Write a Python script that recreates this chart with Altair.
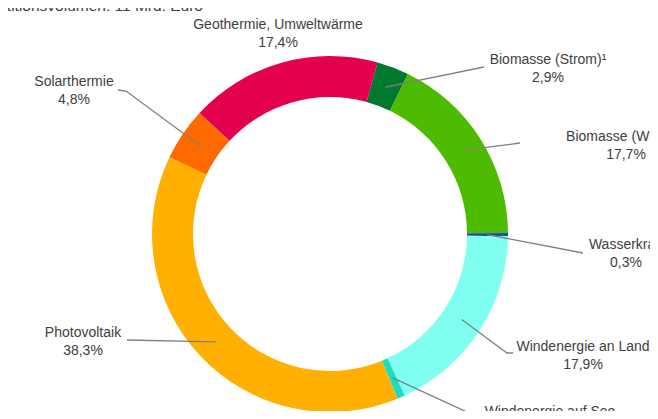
import math
import altair as alt
import pandas as pd

# ---------------- data ----------------
categories = ["Biomasse (Strom)¹", "Biomasse (Wärme)", "Wasserkraft",
              "Windenergie an Land", "Windenergie auf See", "Photovoltaik",
              "Solarthermie", "Geothermie, Umweltwärme"]
shares = [2.9, 17.7, 0.3, 17.9, 0.7, 38.3, 4.8, 17.4]
pct_labels = ["2,9%", "17,7%", "0,3%", "17,9%", "0,7%", "38,3%", "4,8%", "17,4%"]
title_text = "Investitionsvolumen: 11 Mrd. Euro"

# ---------------- style / layout ----------------
colors = ["#00782d", "#4dbb00", "#1c4f9c", "#80fff0", "#1ddcc3",
          "#ffb000", "#ff6a00", "#e3004f"]
W, H = 642, 403
CX, CY = 322, 226
R_OUT, R_IN, R_LEAD = 178, 137, 157
START_DEG = 15.5
FONT = "Liberation Sans"
TXT = "#404040"
LINE_GAP = 18

# label anchor (centre x, y of first line) per category
label_pos = [(540, 52), (618, 129), (618, 237), (575, 339), (542, 404),
             (75, 325), (66, 74), (270, 17)]
# leader way-points after the start point on the ring
leader_pts = [[(476, 59)], [(512, 135)], [(575, 245)],
              [(499, 345), (505, 345)], [(472, 410), (477, 410)],
              [(119, 332)], [(118, 83), (110, 82)], []]

a0 = math.radians(START_DEG)
df = pd.DataFrame({"cat": categories, "share": shares, "pct": pct_labels,
                   "idx": list(range(len(categories)))})
total = sum(shares)
cum = df["share"].cumsum() - df["share"] / 2
df["mid"] = a0 + cum / total * 2 * math.pi

# text rows
trows = []
for i, c in enumerate(categories):
    lx, ly = label_pos[i]
    trows.append({"x": lx, "y": ly, "t": c})
    trows.append({"x": lx, "y": ly + LINE_GAP, "t": pct_labels[i]})
tdf = pd.DataFrame(trows)

# leader rows
lrows = []
for i, c in enumerate(categories):
    if not leader_pts[i]:
        continue
    ang = df.loc[i, "mid"]
    sx = CX + R_LEAD * math.sin(ang)
    sy = CY - R_LEAD * math.cos(ang)
    pts = [(sx, sy)] + leader_pts[i]
    for k, (px, py) in enumerate(pts):
        lrows.append({"cat": c, "k": k, "x": px, "y": py})
ldf = pd.DataFrame(lrows)

xs = alt.Scale(domain=[0, W], range=[0, W])
ys = alt.Scale(domain=[0, H], range=[0, H])

donut = alt.Chart(df).mark_arc(innerRadius=R_IN, outerRadius=R_OUT).encode(
    theta=alt.Theta("share:Q", stack=True,
                    scale=alt.Scale(domain=[0, total], range=[a0, a0 + 2 * math.pi])),
    color=alt.Color("cat:N", scale=alt.Scale(domain=categories, range=colors), legend=None),
    order=alt.Order("idx:Q"),
    x=alt.value(CX), y=alt.value(CY),
)

leaders = alt.Chart(ldf).mark_line(color="#808080", strokeWidth=1.3).encode(
    x=alt.X("x:Q", scale=xs, axis=None),
    y=alt.Y("y:Q", scale=ys, axis=None),
    detail="cat:N",
    order="k:Q",
)

labels = alt.Chart(tdf).mark_text(font=FONT, fontSize=14, color=TXT,
                                  align="center", baseline="middle").encode(
    x=alt.X("x:Q", scale=xs, axis=None),
    y=alt.Y("y:Q", scale=ys, axis=None),
    text="t:N",
)

title = alt.Chart(pd.DataFrame({"x": [195], "y": [3], "t": [title_text]})).mark_text(
    font=FONT, fontSize=15.5, color=TXT, align="right", baseline="alphabetic").encode(
    x=alt.X("x:Q", scale=xs, axis=None),
    y=alt.Y("y:Q", scale=ys, axis=None),
    text="t:N",
)

chart = alt.layer(donut, leaders, labels, title).properties(
    width=W, height=H,
    autosize=alt.AutoSizeParams(type="none"),
    padding=0,
    background="white",
).configure_view(stroke=None)

chart.save("out.html", embed_options={"renderer": "svg", "actions": False})
